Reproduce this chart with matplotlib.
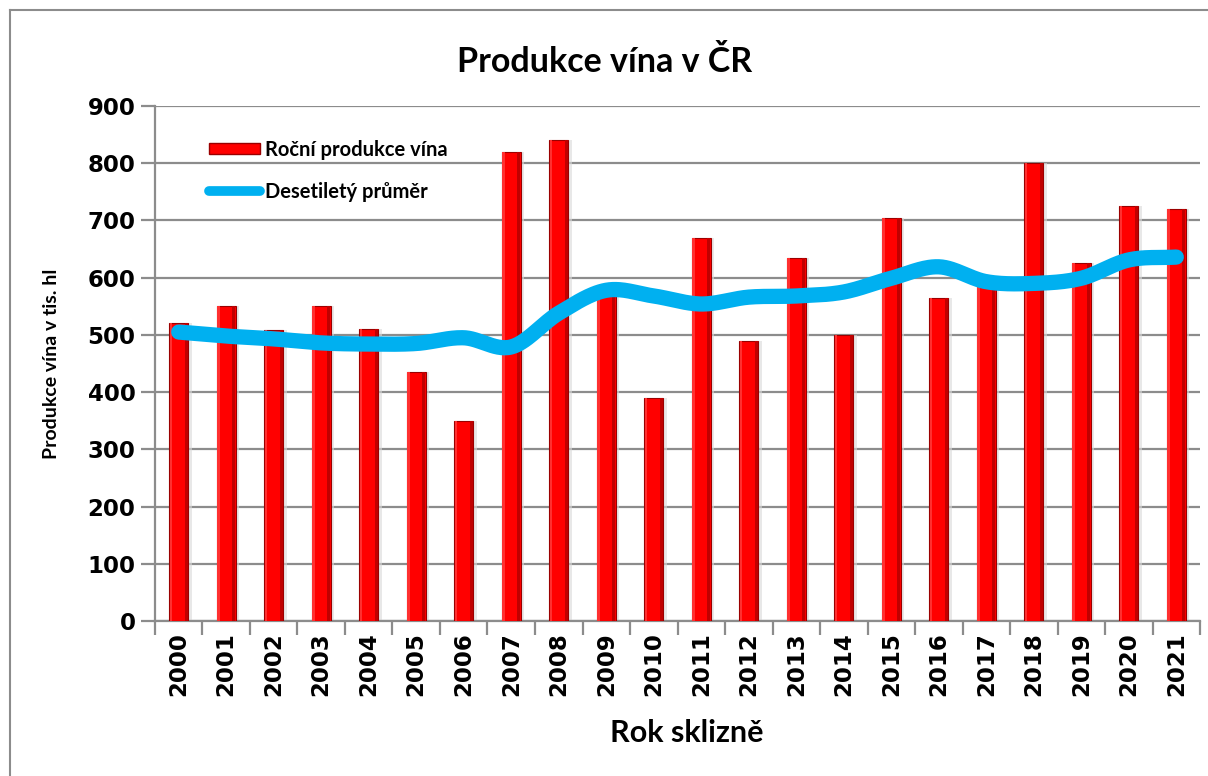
import numpy as np
import matplotlib
matplotlib.use("Agg")
import matplotlib.pyplot as plt
from matplotlib.patches import Patch
from matplotlib.lines import Line2D

roky = list(range(2000, 2022))
produkce = [520, 550, 508, 550, 510, 435, 350, 820, 840, 570, 390,
            670, 490, 635, 500, 705, 565, 590, 800, 625, 725, 720]
prumer = [505, 498, 493, 486, 484, 485, 495, 479, 538, 578, 568,
          554, 566, 568, 575, 599, 619, 593, 590, 599, 631, 636]


def catmull_rom(x, y, n=30):
    # vyhlazena cara jako v Excelu
    x = np.asarray(x, float)
    y = np.asarray(y, float)
    px = np.concatenate([[2 * x[0] - x[1]], x, [2 * x[-1] - x[-2]]])
    py = np.concatenate([[2 * y[0] - y[1]], y, [2 * y[-1] - y[-2]]])
    xs, ys = [], []
    t = np.linspace(0, 1, n)
    for i in range(1, len(px) - 2):
        for p, out in ((px, xs), (py, ys)):
            p0, p1, p2, p3 = p[i - 1], p[i], p[i + 1], p[i + 2]
            out.extend(0.5 * (2 * p1 + (-p0 + p2) * t
                              + (2 * p0 - 5 * p1 + 4 * p2 - p3) * t ** 2
                              + (-p0 + 3 * p1 - 3 * p2 + p3) * t ** 3))
    return np.array(xs), np.array(ys)


fig = plt.figure(figsize=(12.08, 7.76), dpi=100)
ax = fig.add_axes([0.1283, 0.1997, 0.9934 - 0.1283, 0.8634 - 0.1997])

x = np.arange(len(roky))
w = 0.4
ax.bar(x + 0.07, produkce, width=w, color="#d9d9d9", alpha=0.6, zorder=2)
ax.bar(x, produkce, width=w, color="#ff0000", edgecolor="#9a0000",
       linewidth=0.8, zorder=3)
ax.bar(x + w / 2 - 0.04, produkce, width=0.06, color="#c00000", zorder=3.1)
ax.bar(x - w / 2 + 0.035, produkce, width=0.05, color="#ff3030", zorder=3.1)

sx, sy = catmull_rom(x, prumer)
ax.plot(sx, sy, color="#00b0f0", linewidth=11, solid_capstyle="round",
        zorder=4)

ax.set_xlim(-0.5, len(roky) - 0.5)
ax.set_ylim(0, 900)
ax.set_yticks(range(0, 901, 100))
ax.set_xticks(x)
ax.set_xticklabels([str(r) for r in roky], rotation=90)
ax.set_xticks(np.arange(-0.5, len(roky), 1), minor=True)

ax.grid(axis="y", color="#8c8c8c", linewidth=1.6, zorder=1)
ax.set_axisbelow(True)
for s in ["top", "right"]:
    ax.spines[s].set_visible(False)
for s in ["left", "bottom"]:
    ax.spines[s].set_color("#8c8c8c")
    ax.spines[s].set_linewidth(1.6)

ax.tick_params(axis="x", which="major", length=0, pad=8)
ax.tick_params(axis="x", which="minor", length=10, width=1.6,
               color="#8c8c8c")
ax.tick_params(axis="y", length=10, width=1.6, color="#8c8c8c", pad=4)
for lab in ax.get_xticklabels() + ax.get_yticklabels():
    lab.set_fontfamily("DejaVu Sans")
    lab.set_fontweight("bold")
    lab.set_fontsize(16.5)

fig.text(605 / 1208, 1 - 62 / 776, "Produkce vína v ČR", fontfamily="Lato",
         fontweight="bold", fontsize=24.5, ha="center", va="center")
fig.text(687 / 1208, 1 - 733 / 776, "Rok sklizně", fontfamily="Lato",
         fontweight="bold", fontsize=22, ha="center", va="center")
ax.set_ylabel("Produkce vína v tis. hl", fontfamily="Lato",
              fontweight="bold", fontsize=14, labelpad=20)

handles = [Patch(facecolor="#ff0000", edgecolor="#9a0000"),
           Line2D([0], [0], color="#00b0f0", linewidth=7,
                  solid_capstyle="round")]
leg = ax.legend(handles, ["Roční produkce vína", "Desetiletý průměr"],
                loc="upper left", bbox_to_anchor=(0.034, 0.97),
                frameon=False, handlelength=2.55, handleheight=0.5,
                handletextpad=0.25, labelspacing=1.1,
                prop={"family": "Lato", "weight": "bold", "size": 14.5})

fig.add_artist(Line2D([10 / 1208, 10 / 1208], [0, 1 - 10 / 776],
                      color="#8c8c8c", linewidth=1.5))
fig.add_artist(Line2D([10 / 1208, 1], [1 - 10 / 776, 1 - 10 / 776],
                      color="#8c8c8c", linewidth=1.5))

fig.savefig("out.png", dpi=100)
